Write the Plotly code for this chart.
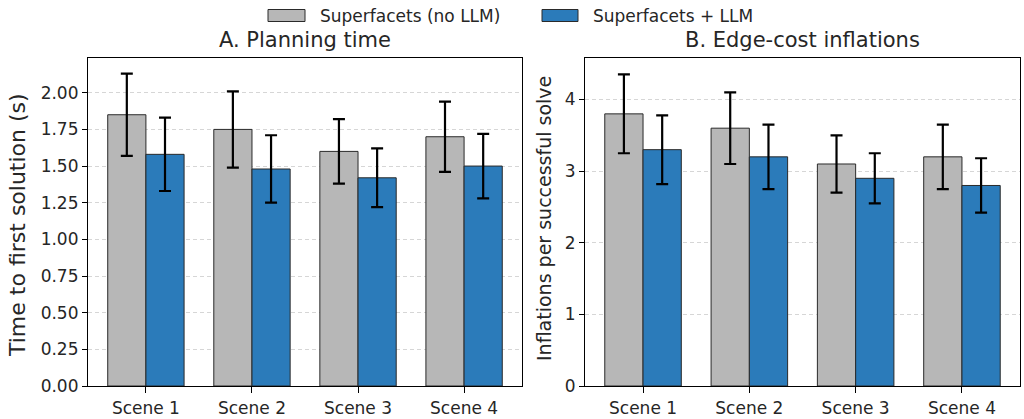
import plotly.graph_objects as go
from plotly.subplots import make_subplots

# Scenes and per-method results
scenes = ["Scene 1", "Scene 2", "Scene 3", "Scene 4"]
series_names = ["Superfacets (no LLM)", "Superfacets + LLM"]

# Panel A: time to first solution (s), mean and std
time_no_llm = [1.85, 1.75, 1.60, 1.70]
time_no_llm_err = [0.28, 0.26, 0.22, 0.24]
time_llm = [1.58, 1.48, 1.42, 1.50]
time_llm_err = [0.25, 0.23, 0.20, 0.22]

# Panel B: edge-cost inflations per successful solve, mean and std
infl_no_llm = [3.80, 3.60, 3.10, 3.20]
infl_no_llm_err = [0.55, 0.50, 0.40, 0.45]
infl_llm = [3.30, 3.20, 2.90, 2.80]
infl_llm_err = [0.48, 0.45, 0.35, 0.38]

GREY = "#b7b7b7"
BLUE = "#2b7bba"
EDGE = "#2a2a2a"
TEXT = "#262626"
FONT = "DejaVu Sans"
W, H = 1024, 419

fig = make_subplots(rows=1, cols=2)


def add_pair(col, v1, e1, v2, e2):
    for vals, errs, color, name in ((v1, e1, GREY, series_names[0]),
                                    (v2, e2, BLUE, series_names[1])):
        fig.add_trace(go.Bar(
            x=scenes, y=vals, name=name, showlegend=False,
            marker=dict(color=color, line=dict(color=EDGE, width=1)),
            error_y=dict(type="data", array=errs, visible=True,
                         color="black", thickness=2.2, width=6),
        ), row=1, col=col)


add_pair(1, time_no_llm, time_no_llm_err, time_llm, time_llm_err)
add_pair(2, infl_no_llm, infl_no_llm_err, infl_llm, infl_llm_err)

# Axes placement in pixels
ax_left = (88, 522)
ax_right = (585, 1020)
ax_top, ax_bottom = 58, 386


def px_x(p):
    return p / W


def px_y(p):
    return 1 - p / H


xcommon = dict(
    type="category", range=[-0.546, 3.546], showline=True, mirror=True,
    linecolor="black", linewidth=1.2, ticks="outside", ticklen=6,
    tickcolor="black", tickwidth=1.2, showgrid=False, zeroline=False,
    tickfont=dict(family=FONT, size=17, color=TEXT), automargin=False,
)
ycommon = dict(
    showline=True, mirror=True, linecolor="black", linewidth=1.2,
    ticks="outside", ticklen=5, tickcolor="black", tickwidth=1.2,
    showgrid=True, gridcolor="#d6d6d6", griddash="4px,3px", gridwidth=0.8,
    zeroline=False, tickfont=dict(family=FONT, size=17, color=TEXT),
    automargin=False,
)

fig.update_xaxes(xcommon, domain=[px_x(ax_left[0]), px_x(ax_left[1])], row=1, col=1)
fig.update_xaxes(xcommon, domain=[px_x(ax_right[0]), px_x(ax_right[1])], row=1, col=2)
fig.update_yaxes(ycommon, domain=[px_y(ax_bottom), px_y(ax_top)], range=[0, 2.237],
                 dtick=0.25, tickformat=".2f", row=1, col=1)
fig.update_yaxes(ycommon, domain=[px_y(ax_bottom), px_y(ax_top)], range=[0, 4.58],
                 dtick=1, row=1, col=2)


def text_note(text, x, y, size, angle=0, anchor="center"):
    return dict(text=text, x=px_x(x), y=px_y(y), xref="paper", yref="paper",
                showarrow=False, xanchor=anchor, yanchor="middle",
                textangle=angle, font=dict(family=FONT, size=size, color=TEXT))


annotations = [
    # panel titles
    text_note("A. Planning time", sum(ax_left) / 2, 40, 21),
    text_note("B. Edge-cost inflations", sum(ax_right) / 2, 40, 21),
    # y-axis titles
    text_note("Time to first solution (s)", 17, 225, 22, angle=-90),
    text_note("Inflations per successful solve", 544, 219, 19, angle=-90),
]

# Legend: patch + label pairs along the top
shapes = []
legend_items = [(268, 305, GREY, 318, series_names[0]),
                (542, 578, BLUE, 591, series_names[1])]
for x0, x1, color, tx, label in legend_items:
    shapes.append(dict(type="rect", xref="paper", yref="paper",
                       x0=px_x(x0), x1=px_x(x1), y0=px_y(21.5), y1=px_y(9.5),
                       fillcolor=color, line=dict(color=EDGE, width=1)))
    annotations.append(text_note(label, tx, 16, 17, anchor="left"))

fig.update_layout(
    width=W, height=H, margin=dict(l=0, r=0, t=0, b=0),
    paper_bgcolor="white", plot_bgcolor="white",
    barmode="group", bargap=0.28, bargroupgap=0,
    showlegend=False, annotations=annotations, shapes=shapes,
    font=dict(family=FONT),
)

fig.write_html("out.html")
